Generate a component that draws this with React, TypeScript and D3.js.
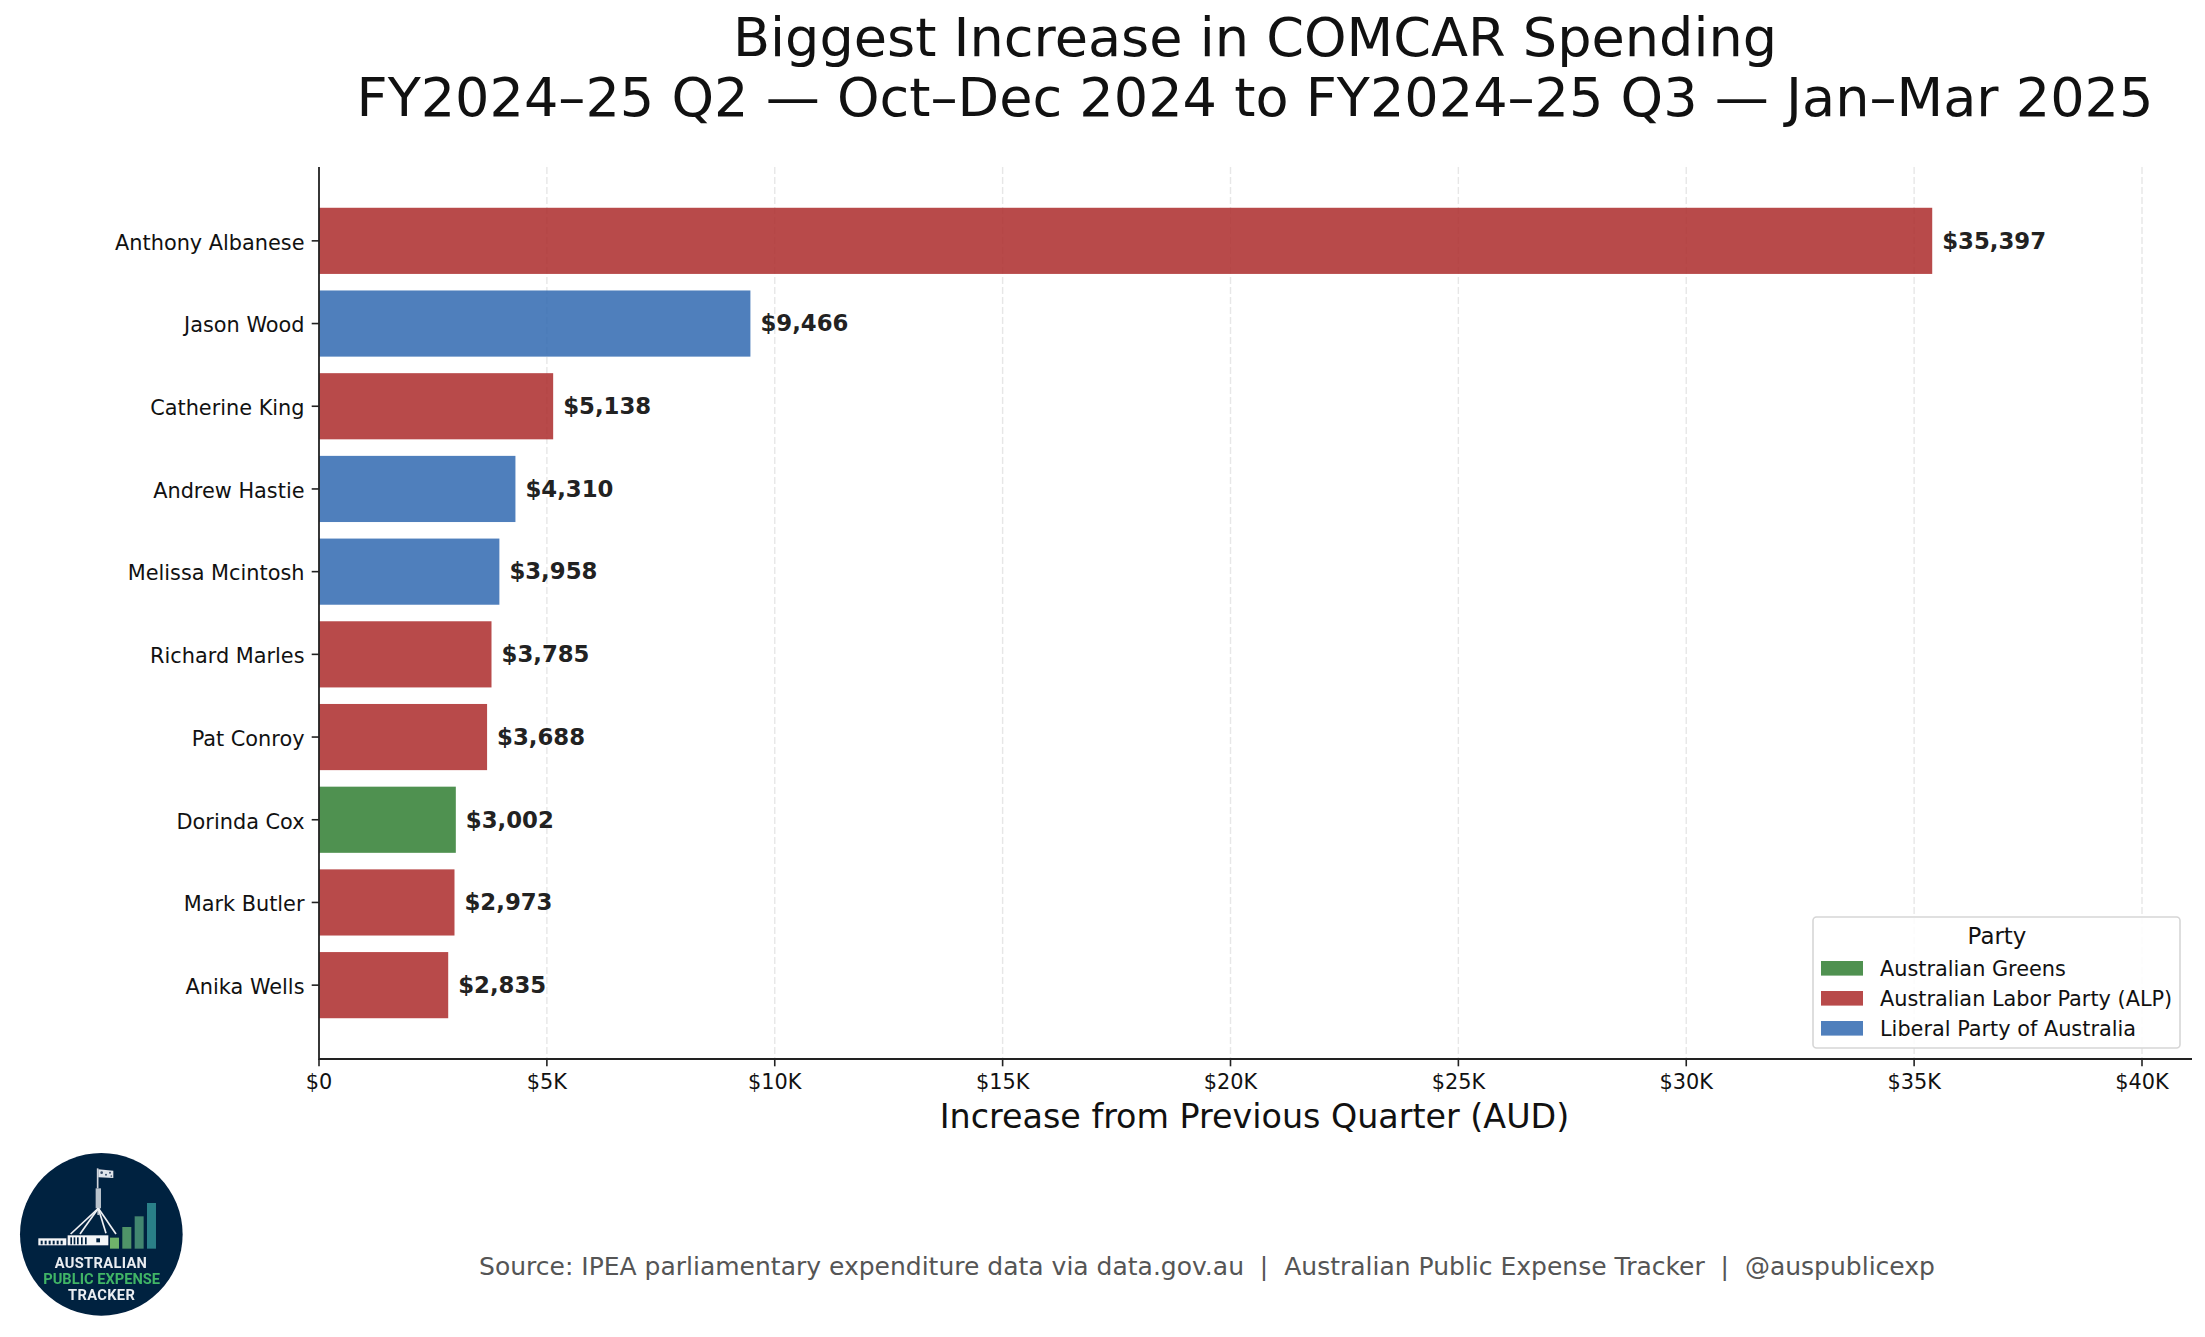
import React from "react";
import * as d3 from "d3";

const names = ["Anthony Albanese","Jason Wood","Catherine King","Andrew Hastie","Melissa Mcintosh","Richard Marles","Pat Conroy","Dorinda Cox","Mark Butler","Anika Wells"];
const values = [35397,9466,5138,4310,3958,3785,3688,3002,2973,2835];
const parties = ["ALP","LIB","ALP","LIB","LIB","ALP","ALP","GRN","ALP","ALP"];
const xTicks = [0,5000,10000,15000,20000,25000,30000,35000,40000];
const legendKeys = ["GRN","ALP","LIB"];
const legendLabels = ["Australian Greens","Australian Labor Party (ALP)","Liberal Party of Australia"];
const partyColors: Record<string,string> = { ALP: "#AC2A2A", LIB: "#3068B0", GRN: "#307E31" };
const titleLines = ["Biggest Increase in COMCAR Spending","FY2024–25 Q2 — Oct–Dec 2024 to FY2024–25 Q3 — Jan–Mar 2025"];
const logoBars = [[330,323,356],[367,291,356],[404,259,356],[441,219,356]];
const logoBarColors = ["#6fb26b","#4f9467","#43866f","#2a8088"];
const logoCableEnds = [[212,312],[240,312],[318,310],[348,312]];
const logoWindowsLeft = [122,134,146,158,170,182];
const logoWindowsCentre = [211,221,231,243,255];

const FONT = "'DejaVu Sans', sans-serif";
const left = 319, right = 2142, top = 167, bottom = 1059, axisEnd = 2192;

export default function App() {
  const x = d3.scaleLinear().domain([0,40000]).range([left,right]);
  const y = d3.scaleBand<string>().domain(names).range([top,bottom]).paddingInner(0.2).paddingOuter(0.493);
  const fmt = d3.format(",");
  return (
    <svg width={2205} height={1337} viewBox="0 0 2205 1337" style={{position:"absolute",left:0,top:0,background:"#fff"}} fontFamily={FONT}>
      <defs>
        <filter id="soft" x="-5%" y="-5%" width="110%" height="110%"><feGaussianBlur stdDeviation="0.55"/></filter>
      </defs>
      <g fontSize={54.1} textAnchor="middle" fill="#111">
        {titleLines.map((t,i)=>(<text key={i} x={1255} y={56+i*60}>{t}</text>))}
      </g>
      {xTicks.map(t=>(
        <line key={t} x1={x(t)} x2={x(t)} y1={top} y2={bottom} stroke="#888" strokeOpacity={0.2} strokeWidth={1.4} strokeDasharray="7 3"/>
      ))}
      {names.map((n,i)=>(
        <rect key={n} x={left} y={y(n)} width={x(values[i])-left} height={y.bandwidth()} fill={partyColors[parties[i]]} opacity={0.85}/>
      ))}
      {names.map((n,i)=>(
        <text key={n} x={x(values[i])+10} y={y(n)!+y.bandwidth()/2+7.8} fontSize={22.8} fontWeight={700} fill="#222">${fmt(values[i])}</text>
      ))}
      <line x1={left} x2={left} y1={top} y2={bottom+0.9} stroke="#222" strokeWidth={1.8}/>
      <line x1={left} x2={axisEnd} y1={bottom} y2={bottom} stroke="#222" strokeWidth={1.8}/>
      {names.map(n=>{
        const c = y(n)!+y.bandwidth()/2;
        return <g key={n}>
          <line x1={left-7.3} x2={left} y1={c} y2={c} stroke="#222" strokeWidth={1.6}/>
          <text x={left-14.5} y={c+8.8} textAnchor="end" fontSize={20.83} fill="#111">{n}</text>
        </g>;
      })}
      {xTicks.map(t=>(
        <g key={t}>
          <line x1={x(t)} x2={x(t)} y1={bottom} y2={bottom+7.3} stroke="#222" strokeWidth={1.6}/>
          <text x={x(t)} y={bottom+30} textAnchor="middle" fontSize={20.83} fill="#111">{t===0?"$0":`$${t/1000}K`}</text>
        </g>
      ))}
      <text x={1254.5} y={1128} textAnchor="middle" fontSize={33.33} fill="#111">Increase from Previous Quarter (AUD)</text>
      <rect x={1813} y={917} width={367} height={131} rx={3.5} fill="#fff" fillOpacity={0.85} stroke="#d6d6d6" strokeWidth={1.6}/>
      <text x={1997} y={944} textAnchor="middle" fontSize={22.92} fill="#111">Party</text>
      {legendKeys.map((k,i)=>{
        const yy = 961+i*30;
        return <g key={k}>
          <rect x={1821} y={yy} width={42} height={14.6} fill={partyColors[k]} opacity={0.85}/>
          <text x={1880} y={yy+15} fontSize={20.83} fill="#111">{legendLabels[i]}</text>
        </g>;
      })}
      <text x={1207} y={1275} textAnchor="middle" fontSize={25} fill="#555" style={{whiteSpace:"pre"}}>Source: IPEA parliamentary expenditure data via data.gov.au  |  Australian Public Expense Tracker  |  @auspublicexp</text>
      <g transform="translate(0,1130) scale(0.3333)" filter="url(#soft)">
        <circle cx={304} cy={313} r={244} fill="#04203f"/>
        <path d="M295 118 L340 122 L340 144 L295 142 Z" fill="#dfe4ea"/>
        <g fill="#3a4f6b"><circle cx={305} cy={128} r={4}/><circle cx={318} cy={134} r={3}/><circle cx={330} cy={128} r={3}/><circle cx={334} cy={138} r={2.5}/></g>
        <line x1={293} y1={115} x2={293} y2={175} stroke="#cfd6dd" strokeWidth={5}/>
        <rect x={287} y={175} width={16} height={60} fill="#b9c3cc"/>
        <line x1={295} x2={295} y1={233} y2={255} stroke="#b9c3cc" strokeWidth={6}/>
        <g stroke="#eef1f4" strokeWidth={5} fill="none">
          {logoCableEnds.map((e,i)=>(<line key={i} x1={295} y1={235} x2={e[0]} y2={e[1]}/>))}
        </g>
        <rect x={115} y={325} width={84} height={21} fill="#f4f6f8"/>
        <rect x={203} y={316} width={122} height={30} fill="#f4f6f8"/>
        <g fill="#04203f">
          {logoWindowsLeft.map(v=>(<rect key={v} x={v} y={332} width={6} height={11}/>))}
          {logoWindowsCentre.map(v=>(<rect key={v} x={v} y={322} width={5} height={21}/>))}
          <rect x={289} y={325} width={11} height={12}/>
        </g>
        {logoBars.map((b,i)=>(<rect key={i} x={b[0]} y={b[1]} width={27} height={b[2]-b[1]} fill={logoBarColors[i]}/>))}
        <g textAnchor="middle" fontFamily="Roboto, 'DejaVu Sans', sans-serif" fontWeight={700}>
          <text x={303} y={413} fontSize={44} fill="#e9edf1" letterSpacing={1}>AUSTRALIAN</text>
          <text x={305} y={462} fontSize={44} fill="#3fb566" letterSpacing={0}>PUBLIC EXPENSE</text>
          <text x={305} y={510} fontSize={44} fill="#e9edf1" letterSpacing={1}>TRACKER</text>
        </g>
      </g>
    </svg>
  );
}
